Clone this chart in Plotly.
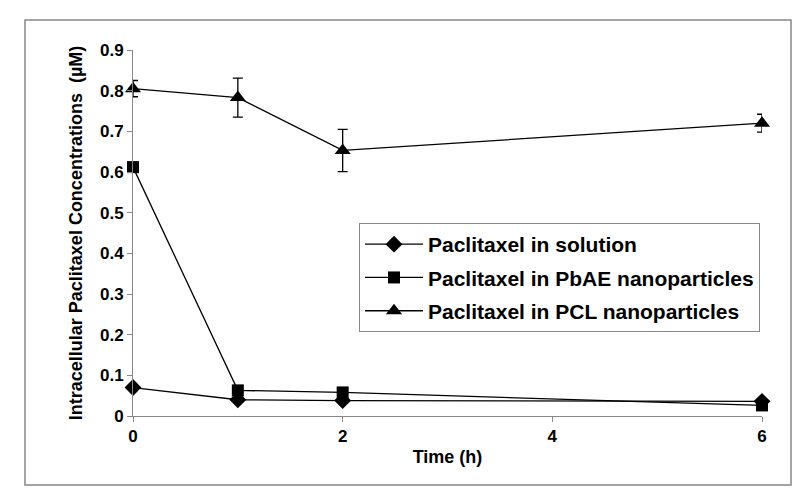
import plotly.graph_objects as go

time_h = [0, 1, 2, 6]
solution = [0.070, 0.040, 0.038, 0.036]
pbae = [0.612, 0.063, 0.058, 0.026]
pcl = [0.805, 0.783, 0.653, 0.720]
pcl_err = [0.020, 0.048, 0.052, 0.022]

x_ticks = [0, 2, 4, 6]
y_ticks = [0, 0.1, 0.2, 0.3, 0.4, 0.5, 0.6, 0.7, 0.8, 0.9]
y_tick_text = ["0", "0.1", "0.2", "0.3", "0.4", "0.5", "0.6", "0.7", "0.8", "0.9"]

FONT = "Arial, Liberation Sans, sans-serif"

fig = go.Figure()
fig.add_trace(go.Scatter(
    x=time_h, y=solution, mode="lines+markers", name="Paclitaxel in solution",
    legendgroup="a",
    line=dict(color="black", width=1.3),
    marker=dict(symbol="diamond", size=13, color="black"), cliponaxis=False))
fig.add_trace(go.Scatter(
    x=time_h, y=pbae, mode="lines+markers", name="Paclitaxel in PbAE nanoparticles",
    legendgroup="b",
    line=dict(color="black", width=1.3),
    marker=dict(symbol="square", size=12, color="black"), cliponaxis=False))
fig.add_trace(go.Scatter(
    x=time_h, y=pcl, mode="lines+markers", name="Paclitaxel in PCL nanoparticles",
    legendgroup="c",
    line=dict(color="black", width=1.3),
    marker=dict(symbol="triangle-up", size=14, color="black"),
    error_y=dict(type="data", array=pcl_err, visible=True, color="black", thickness=1.3, width=5),
    cliponaxis=False))

fig.update_layout(
    width=800, height=496,
    paper_bgcolor="white", plot_bgcolor="white",
    margin=dict(l=125, r=46, t=42, b=88),
    font=dict(family=FONT, color="black"),
    showlegend=True,
    legend=dict(
        x=(351 - 125) / 629, y=(408 - 215) / 366, xanchor="left", yanchor="top",
        bgcolor="white", bordercolor="#888888", borderwidth=1,
        font=dict(family=FONT, size=21, weight="bold", color="black"),
        itemwidth=58, tracegroupgap=3,
    ),
    xaxis=dict(
        range=[0, 6], tickvals=x_ticks, ticktext=[str(v) for v in x_ticks],
        showline=True, linecolor="#888888", linewidth=1,
        ticks="outside", ticklen=5, tickcolor="#888888",
        showgrid=False, zeroline=False,
        tickfont=dict(family=FONT, size=17, weight="bold", color="black"),
        title=dict(text="Time (h)", font=dict(family=FONT, size=18, weight="bold"), standoff=4),
    ),
    yaxis=dict(
        range=[0, 0.9], tickvals=y_ticks, ticktext=y_tick_text,
        showline=True, linecolor="#888888", linewidth=1,
        ticks="outside", ticklen=5, tickcolor="#888888",
        showgrid=False, zeroline=False,
        tickfont=dict(family=FONT, size=17, weight="bold", color="black"),
        title=dict(text="Intracellular Paclitaxel Concentrations  (µM)",
                   font=dict(family=FONT, size=18, weight="bold"), standoff=12),
    ),
    shapes=[dict(type="rect", xref="paper", yref="paper",
                 x0=(17 - 125) / 629, x1=(783 - 125) / 629,
                 y0=(408 - 477) / 366, y1=(408 - 12) / 366,
                 line=dict(color="#888888", width=1.5), fillcolor="rgba(0,0,0,0)", layer="below")],
)

fig.write_html("out.html")
